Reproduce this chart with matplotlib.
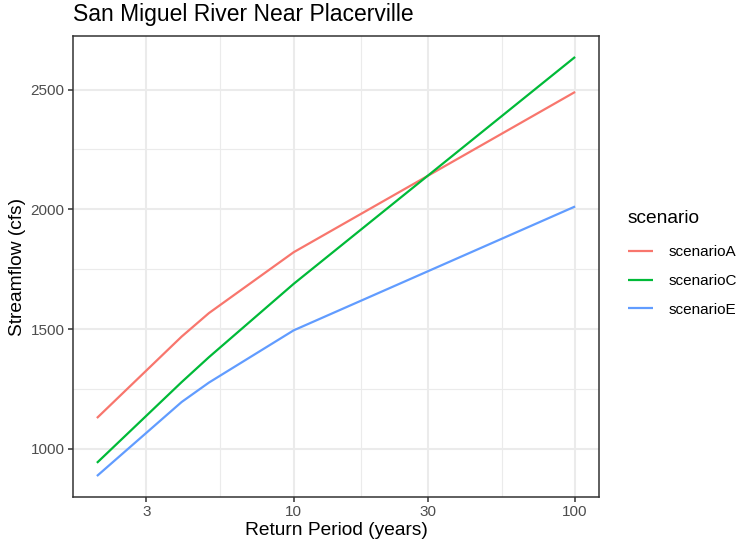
import numpy as np
import matplotlib
matplotlib.use("Agg")
import matplotlib.pyplot as plt

# return periods (years) and streamflow (cfs)
period = [2, 4, 5, 10, 100]
scenarioA = [1129, 1469, 1567, 1821, 2490]
scenarioC = [942, 1279, 1383, 1689, 2636]
scenarioE = [887, 1196, 1277, 1495, 2012]

names = ["scenarioA", "scenarioC", "scenarioE"]
colors = ["#F8766D", "#00BA38", "#619CFF"]

plt.rcParams["font.family"] = ["Liberation Sans", "DejaVu Sans"]

fig = plt.figure(figsize=(7.41, 5.43), dpi=100)
ax = fig.add_axes([73 / 741, 1 - 497 / 543, 526 / 741, 461 / 543])

for name, vals, c in zip(names, [scenarioA, scenarioC, scenarioE], colors):
    ax.plot(period, vals, color=c, lw=1.6, label=name, solid_capstyle="butt")

ax.set_xscale("log")
# ggplot-like 5% expansion
lx = np.log10([min(period), max(period)])
dx = (lx[1] - lx[0]) * 0.05
ax.set_xlim(10 ** (lx[0] - dx), 10 ** (lx[1] + dx))
allv = scenarioA + scenarioC + scenarioE
dy = (max(allv) - min(allv)) * 0.05
ax.set_ylim(min(allv) - dy, max(allv) + dy)

xt = [3, 10, 30, 100]
ax.set_xticks(xt)
ax.set_xticklabels([str(v) for v in xt])
ax.set_xticks([np.sqrt(30), np.sqrt(300), np.sqrt(3000)], minor=True)
ax.set_yticks([1000, 1500, 2000, 2500])
ax.set_yticks([1250, 1750, 2250], minor=True)

ax.grid(which="major", color="#EBEBEB", lw=1.5)
ax.grid(which="minor", color="#EBEBEB", lw=0.8)
ax.set_axisbelow(True)
for s in ax.spines.values():
    s.set_color("#333333")
    s.set_linewidth(1.1)
ax.tick_params(which="major", length=3.6, width=1.1, color="#333333",
               labelcolor="#4D4D4D", labelsize=11, pad=2.5)
ax.tick_params(which="minor", length=0)

ax.set_xlabel("Return Period (years)", fontsize=13.75, labelpad=2)
ax.set_ylabel("Streamflow (cfs)", fontsize=13.75, labelpad=3)
fig.text(73 / 741, 1 - 14 / 543, "San Miguel River Near Placerville",
         fontsize=16.5, ha="left", va="center")

leg = ax.legend(title="scenario", loc="upper left",
                bbox_to_anchor=(628 / 741, 1 - 210 / 543),
                bbox_transform=fig.transFigure, frameon=False,
                fontsize=11, title_fontsize=13.75, handlelength=1.65,
                handletextpad=1.0, labelspacing=0.97, borderpad=0,
                borderaxespad=0, alignment="left")
leg._legend_box.sep = 13

fig.savefig("out.png", dpi=100)
